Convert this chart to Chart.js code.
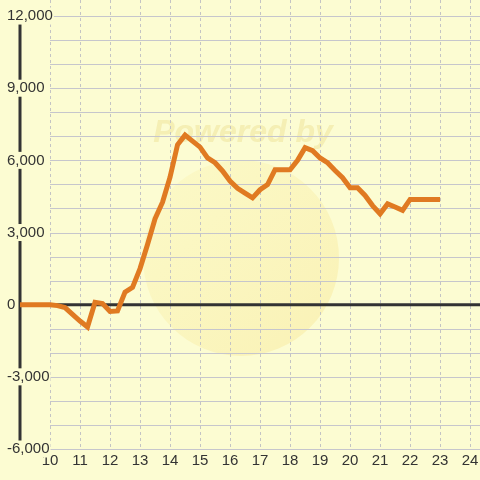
<!DOCTYPE html>
<html>
<head>
<meta charset="utf-8">
<script src="https://cdn.jsdelivr.net/npm/chart.js@4.4.0/dist/chart.umd.min.js"></script>
<style>
html, body { margin: 0; padding: 0; background: #fcfcd2; }
#wrap { width: 480px; height: 480px; }
</style>
</head>
<body>
<div id="wrap"><canvas id="saldoChart"></canvas></div>
<script>
// horas del dia (cada 15 min) y saldo acumulado
var horas = [9, 9.25, 9.5, 9.75, 10, 10.25, 10.5, 10.75, 11, 11.25, 11.5, 11.75,
	12, 12.25, 12.5, 12.75, 13, 13.25, 13.5, 13.75, 14, 14.25, 14.5, 14.75,
	15, 15.25, 15.5, 15.75, 16, 16.25, 16.5, 16.75, 17, 17.25, 17.5, 17.75,
	18, 18.25, 18.5, 18.75, 19, 19.25, 19.5, 19.75, 20, 20.25, 20.5, 20.75,
	21, 21.25, 21.5, 21.75, 22, 22.25, 22.5, 22.75, 23];
var saldo = [0, 0, 0, 0, 0, -40, -120, -400, -680, -930, 100, 50,
	-280, -260, 520, 720, 1500, 2500, 3570, 4260, 5300, 6650, 7050, 6800,
	6550, 6100, 5900, 5560, 5140, 4840, 4640, 4440, 4780, 4990, 5610, 5610,
	5610, 6000, 6530, 6400, 6100, 5900, 5580, 5280, 4860, 4860, 4540, 4120,
	3780, 4190, 4060, 3920, 4375, 4375, 4375, 4375, 4375];
var marcasX = [10, 11, 12, 13, 14, 15, 16, 17, 18, 19, 20, 21, 22, 23, 24];
var marcasY = [-6000, -5000, -4000, -3000, -2000, -1000, 0, 1000, 2000, 3000,
	4000, 5000, 6000, 7000, 8000, 9000, 10000, 11000, 12000];
var etiquetasY = [-6000, -3000, 0, 3000, 6000, 9000, 12000];

var colorFondo = '#fcfcd2';

var fondo = {
	id: 'fondo',
	beforeDraw: function (chart) {
		var ctx = chart.ctx, a = chart.chartArea, sx = chart.scales.x, sy = chart.scales.y;
		ctx.save();
		ctx.fillStyle = colorFondo;
		ctx.fillRect(0, 0, chart.width, chart.height);
		// marca de agua
		var g = ctx.createLinearGradient(160, 180, 320, 340);
		g.addColorStop(0, 'rgba(250,242,175,0.35)');
		g.addColorStop(1, 'rgba(248,234,160,0.55)');
		ctx.fillStyle = g;
		ctx.beginPath();
		ctx.arc(241, 258, 98, 0, Math.PI * 2);
		ctx.fill();
		ctx.fillStyle = 'rgba(238,226,150,0.5)';
		ctx.font = 'italic bold 32px "Liberation Sans", Arial, sans-serif';
		ctx.textAlign = 'center';
		ctx.textBaseline = 'middle';
		ctx.fillText('Powered by', 243, 133);
		// rejilla horizontal
		ctx.strokeStyle = '#c6c6cc';
		ctx.lineWidth = 1;
		var x0 = sx.getPixelForValue(10);
		for (var i = 0; i < marcasY.length; i++) {
			var py = Math.round(sy.getPixelForValue(marcasY[i])) + 0.5;
			ctx.beginPath();
			ctx.moveTo(x0, py);
			ctx.lineTo(a.right, py);
			ctx.stroke();
		}
		// eje y
		ctx.strokeStyle = '#333333';
		ctx.lineWidth = 3;
		ctx.beginPath();
		ctx.moveTo(a.left, sy.getPixelForValue(12000));
		ctx.lineTo(a.left, a.bottom);
		ctx.stroke();
		ctx.restore();
	},
	beforeDatasetsDraw: function (chart) {
		var ctx = chart.ctx, a = chart.chartArea, sy = chart.scales.y;
		var py = sy.getPixelForValue(0);
		ctx.save();
		ctx.strokeStyle = '#333333';
		ctx.lineWidth = 3;
		ctx.beginPath();
		ctx.moveTo(a.left, py);
		ctx.lineTo(a.right, py);
		ctx.stroke();
		ctx.restore();
	}
};

var puntos = [];
for (var i = 0; i < horas.length; i++) {
	puntos.push({ x: horas[i], y: saldo[i] });
}

var fuente = { family: '"Liberation Sans", Arial, sans-serif', size: 15, lineHeight: 1 };

new Chart(document.getElementById('saldoChart'), {
	type: 'line',
	data: {
		datasets: [{
			data: puntos,
			borderColor: '#e07a22',
			borderWidth: 5,
			pointRadius: 0,
			tension: 0,
			fill: false
		}]
	},
	options: {
		responsive: true,
		maintainAspectRatio: false,
		animation: false,
		layout: { padding: { left: 20, right: 0, top: 0, bottom: 8 } },
		plugins: { legend: { display: false }, tooltip: { enabled: false } },
		scales: {
			x: {
				type: 'linear',
				min: 9,
				max: 24.33,
				afterBuildTicks: function (scale) {
					scale.ticks = marcasX.map(function (v) { return { value: v }; });
				},
				afterFit: function (scale) {
					scale.paddingLeft = 0;
					scale.paddingRight = 0;
				},
				grid: { color: '#c4c4c4', drawTicks: false },
				border: { display: false, dash: [3, 3] },
				ticks: { color: '#333333', font: fuente, padding: 4, autoSkip: false, maxRotation: 0 }
			},
			y: {
				min: -6000,
				max: 12667,
				afterBuildTicks: function (scale) {
					scale.ticks = marcasY.map(function (v) { return { value: v }; });
				},
				afterFit: function (scale) {
					scale.width = 0;
					scale.paddingTop = 0;
					scale.paddingBottom = 0;
				},
				grid: { display: false, drawTicks: false },
				border: { display: false },
				ticks: {
					color: '#333333',
					font: fuente,
					mirror: true,
					padding: -13,
					crossAlign: 'near',
					autoSkip: false,
					showLabelBackdrop: true,
					backdropColor: colorFondo,
					backdropPadding: { x: 1, y: 1 },
					callback: function (v) {
						return etiquetasY.indexOf(v) >= 0 ? v.toLocaleString('en-US') : '';
					}
				}
			}
		}
	},
	plugins: [fondo]
});
</script>
</body>
</html>
